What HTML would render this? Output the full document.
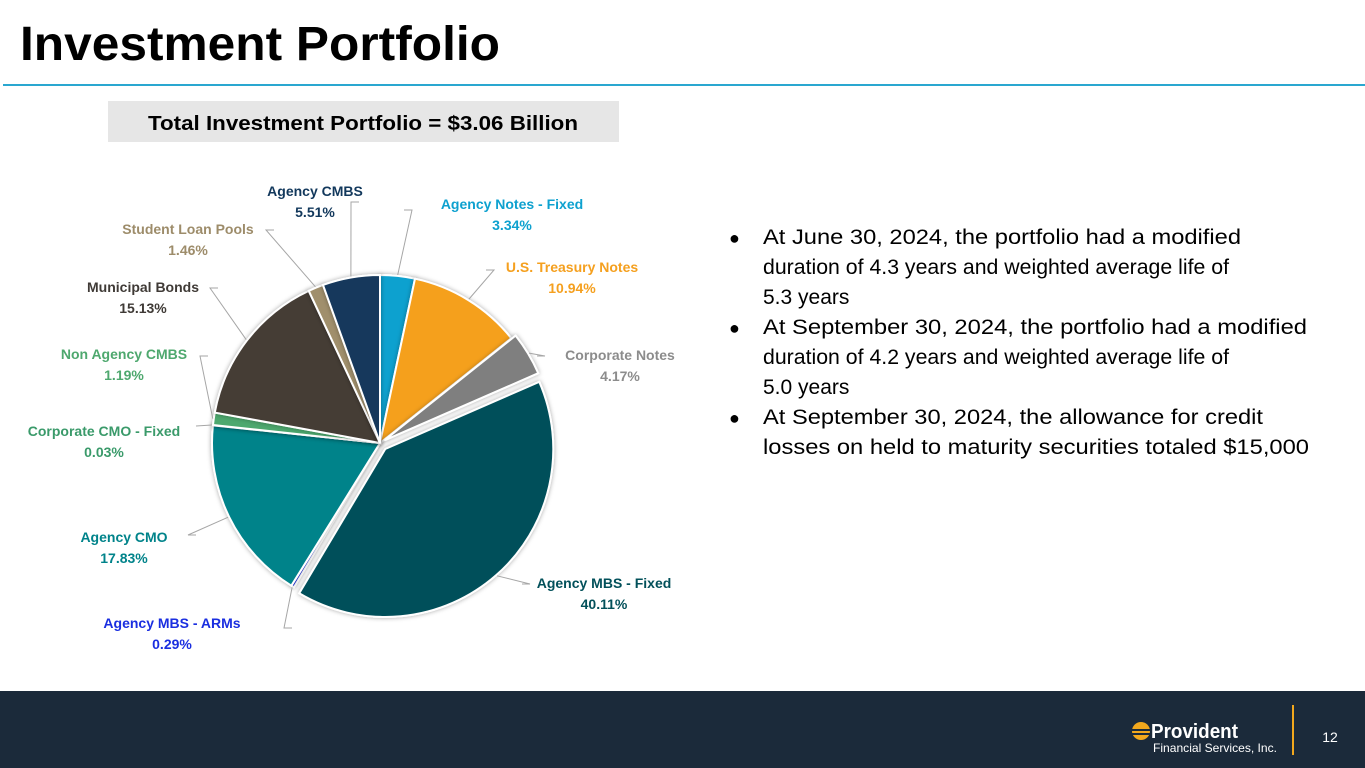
<!DOCTYPE html>
<html><head><meta charset="utf-8"><style>
body{margin:0;width:1365px;height:768px;overflow:hidden;background:#fff;font-family:"Liberation Sans",sans-serif}
svg{display:block}
</style></head><body>
<svg id="s" width="1365" height="768" viewBox="0 0 1365 768">
<defs><filter id="sh" x="-20%" y="-20%" width="140%" height="140%"><feDropShadow dx="0" dy="0" stdDeviation="2.5" flood-color="#000" flood-opacity="0.35"/></filter></defs>
<text x="20" y="60" font-size="48" font-weight="bold" fill="#000" textLength="480" lengthAdjust="spacingAndGlyphs">Investment Portfolio</text>
<rect x="3" y="84" width="1362" height="2" fill="#2aa7d0"/>
<rect x="108" y="101" width="511" height="41" fill="#e6e6e6"/>
<text x="363" y="130" font-size="20" font-weight="bold" text-anchor="middle" fill="#000" textLength="430" lengthAdjust="spacingAndGlyphs">Total Investment Portfolio = $3.06 Billion</text>
<g id="pie"></g>
<g id="labels"></g>
<g font-size="21" fill="#000">
<text x="729" y="244" font-size="18">●</text>
<text x="763" y="244" textLength="478" lengthAdjust="spacingAndGlyphs">At June 30, 2024, the portfolio had a modified</text>
<text x="763" y="274" textLength="466" lengthAdjust="spacingAndGlyphs">duration of 4.3 years and weighted average life of</text>
<text x="763" y="304">5.3 years</text>
<text x="729" y="334" font-size="18">●</text>
<text x="763" y="334" textLength="544" lengthAdjust="spacingAndGlyphs">At September 30, 2024, the portfolio had a modified</text>
<text x="763" y="364" textLength="466" lengthAdjust="spacingAndGlyphs">duration of 4.2 years and weighted average life of</text>
<text x="763" y="394">5.0 years</text>
<text x="729" y="424" font-size="18">●</text>
<text x="763" y="424" textLength="500" lengthAdjust="spacingAndGlyphs">At September 30, 2024, the allowance for credit</text>
<text x="763" y="454" textLength="546" lengthAdjust="spacingAndGlyphs">losses on held to maturity securities totaled $15,000</text>
</g>
<rect x="0" y="691" width="1365" height="77" fill="#1b2a3a"/>
<g>
<circle cx="1141" cy="731" r="9" fill="#f2a81d"/>
<rect x="1131" y="729" width="20" height="2" fill="#1b2a3a"/><rect x="1131" y="733" width="20" height="2" fill="#1b2a3a"/>
<text x="1151" y="738" font-size="20" font-weight="bold" fill="#fff" textLength="87" lengthAdjust="spacingAndGlyphs">Provident</text>
<text x="1153" y="752" font-size="12" fill="#fff" textLength="124" lengthAdjust="spacingAndGlyphs">Financial Services, Inc.</text>
</g>
<rect x="1292" y="705" width="2" height="50" fill="#f2a81d"/>
<text x="1330" y="742" font-size="14" fill="#fff" text-anchor="middle">12</text>
</svg>
<script>
const categories=["Agency Notes - Fixed","U.S. Treasury Notes","Corporate Notes","Agency MBS - Fixed","Agency MBS - ARMs","Agency CMO","Corporate CMO - Fixed","Non Agency CMBS","Municipal Bonds","Student Loan Pools","Agency CMBS"];
const values=[3.34,10.94,4.17,40.11,0.29,17.83,0.03,1.19,15.13,1.46,5.51];
const valueLabels=["3.34%","10.94%","4.17%","40.11%","0.29%","17.83%","0.03%","1.19%","15.13%","1.46%","5.51%"];
const colors=["#0ea1cf","#f5a01f","#7f7f7f","#02505a","#1a2ee0","#00838a","#3a8a6a","#4ea86e","#453c35","#a08f6c","#12385c"];
const textColors=["#0ea1cf","#f5a01f","#8c8c8c","#02505a","#1a2ee0","#00838a","#3a9a6a","#4ea86e","#3f3a36","#9d8c6a","#12385c"];
const explode=[0,0,5,8,0,0,0,0,0,0,0];
const NS="http://www.w3.org/2000/svg";
const cx=380,cy=443,R=168;
const total=values.reduce((a,b)=>a+b,0);
function ang(v){return v/total*2*Math.PI;}
function pt(a,r,ox,oy){return [ox+r*Math.sin(a),oy-r*Math.cos(a)];}
// label anchor positions (layout): [textX, textY, anchor, lineEndX, lineEndY]
const lab=[[512,209,"middle",412,210],[572,272,"middle",494,270],[620,360,"middle",545,356],[604,588,"middle",530,584],[172,628,"middle",284,628],[124,542,"middle",188,535],[104,436,"middle",196,426],[124,359,"middle",200,356],[143,292,"middle",210,288],[188,234,"middle",266,230],[315,196,"middle",351,202]];
const pie=document.getElementById('pie'),lg=document.getElementById('labels');
let a0=0;
values.forEach((v,i)=>{
 const a1=a0+ang(v),mid=(a0+a1)/2;
 const ox=cx+explode[i]*Math.sin(mid),oy=cy-explode[i]*Math.cos(mid);
 const p0=pt(a0,R,ox,oy),p1=pt(a1,R,ox,oy);
 const large=(a1-a0)>Math.PI?1:0;
 const p=document.createElementNS(NS,'path');
 p.setAttribute('d',`M${ox},${oy}L${p0[0]},${p0[1]}A${R},${R} 0 ${large} 1 ${p1[0]},${p1[1]}Z`);
 p.setAttribute('fill',colors[i]);p.setAttribute('stroke','#fff');p.setAttribute('stroke-width','2');
 p.setAttribute('filter','url(#sh)');
 
 
 pie.appendChild(p);
 const L=lab[i],e=pt(mid,R+1,ox,oy);
 const ln=document.createElementNS(NS,'polyline');
 const hx=L[2]==="middle"?(L[3]>cx?L[3]-8:L[3]+8):L[3];
 ln.setAttribute('points',`${e[0]},${e[1]} ${L[3]},${L[4]} ${L[3]>cx?L[3]-8:L[3]+8},${L[4]}`);
 ln.setAttribute('fill','none');ln.setAttribute('stroke','#a6a6a6');ln.setAttribute('stroke-width','1');
 
 
 lg.appendChild(ln);
 [categories[i],valueLabels[i]].forEach((s,k)=>{
  const t=document.createElementNS(NS,'text');
  t.setAttribute('x',L[0]);t.setAttribute('y',L[1]+k*21);t.setAttribute('text-anchor',L[2]);
  t.setAttribute('font-size','14');t.setAttribute('font-weight','bold');t.setAttribute('fill',textColors[i]);
  t.textContent=s;
  
  
  lg.appendChild(t);
 });
 a0=a1;
});
</script>
</body></html>
